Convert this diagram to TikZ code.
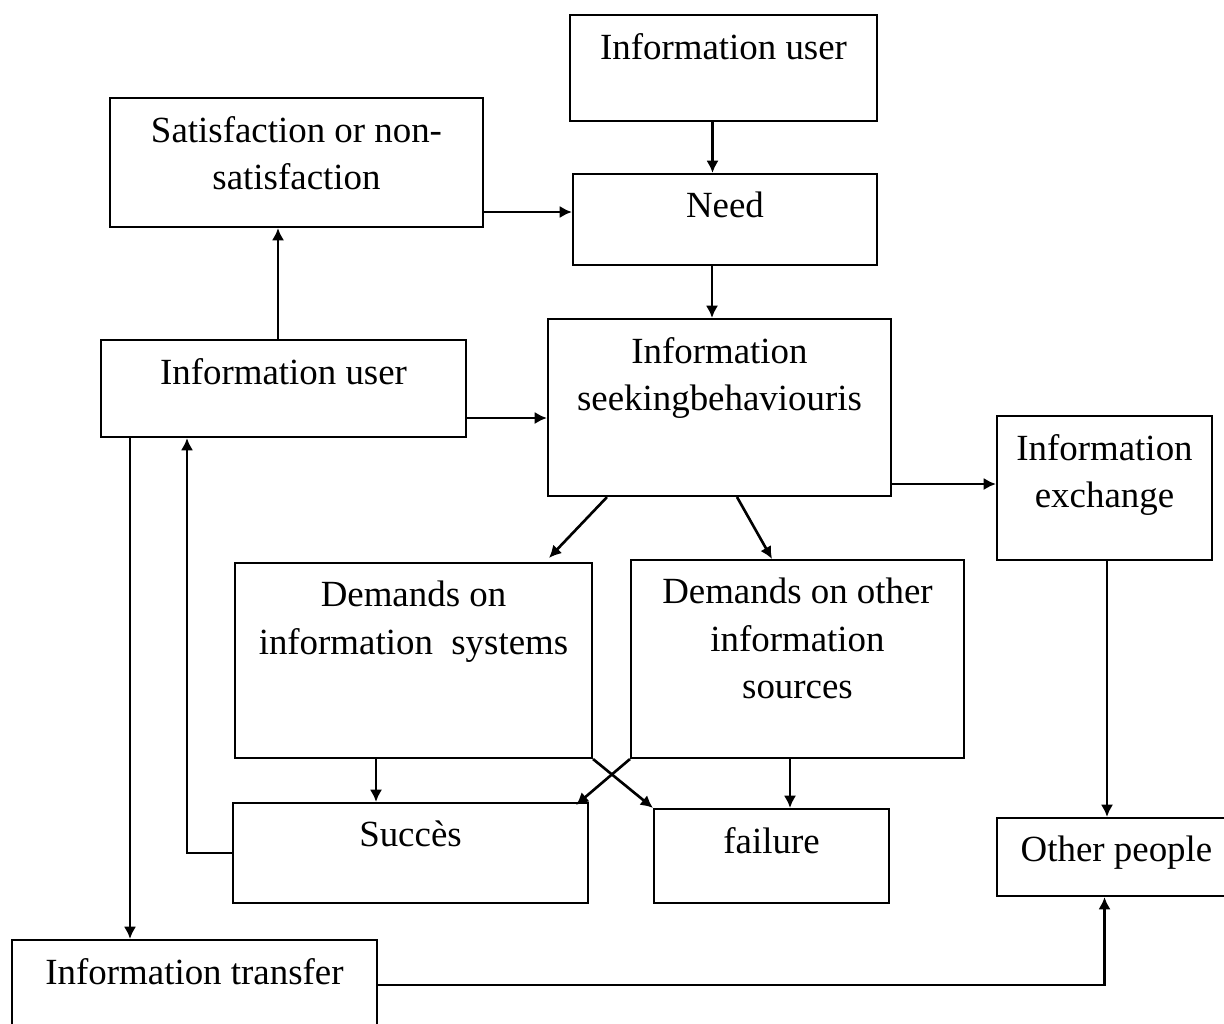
\documentclass[tikz,border=0pt]{standalone}
\usepackage{fontspec}
\setmainfont{Liberation Serif}
\usetikzlibrary{arrows.meta}
\newlength\px
\setlength\px{0.02cm}
\begin{document}
\begin{tikzpicture}[x=0.02cm, y=-0.02cm,
  box/.style={draw, line width=1.2pt, inner sep=0pt},
  txt/.style={anchor=north, align=center, inner sep=0pt, font=\fontsize{21}{27}\selectfont},
  link/.style={line width=1.5pt, -{Latex[length=7pt,width=7pt]}}]
\useasboundingbox (0,0) rectangle (1224,1024);

% Draw the boxes
\node[box, minimum width=307\px, minimum height=106\px] (userTop) at (723.5,68) {};
\node[box, minimum width=373\px, minimum height=129\px] (satis) at (296.5,162.5) {};
\node[box, minimum width=304\px, minimum height=91\px] (need) at (725,219.5) {};
\node[box, minimum width=365\px, minimum height=97\px] (userLeft) at (283.5,388.5) {};
\node[box, minimum width=343\px, minimum height=177\px] (seek) at (719.5,407.5) {};
\node[box, minimum width=215\px, minimum height=144\px] (exch) at (1104.5,488) {};
\node[box, minimum width=357\px, minimum height=195\px] (demSys) at (413.5,660.5) {};
\node[box, minimum width=333\px, minimum height=198\px] (demOth) at (797.5,659) {};
\node[box, minimum width=355\px, minimum height=100\px] (succ) at (410.5,853) {};
\node[box, minimum width=235\px, minimum height=94\px] (fail) at (771.5,856) {};
\node[box, minimum width=239\px, minimum height=78\px] (other) at (1116.5,857) {};
\node[box, minimum width=365\px, minimum height=100\px] (transfer) at (194.5,990) {};

% Insert the texts
\node[txt] (userTopTxt) at ([yshift=-19\px]userTop.north) {Information user};
\node[txt] (satisTxt) at ([yshift=-19\px]satis.north) {Satisfaction or non-\\satisfaction};
\node[txt] (needTxt) at ([yshift=-19\px]need.north) {Need};
\node[txt] (userLeftTxt) at ([yshift=-19\px]userLeft.north) {Information user};
\node[txt] (seekTxt) at ([yshift=-19\px]seek.north) {Information\\seekingbehaviouris};
\node[txt] (exchTxt) at ([yshift=-19\px]exch.north) {Information\\exchange};
\node[txt] (demSysTxt) at ([yshift=-19\px]demSys.north) {Demands on\\information\ \ systems};
\node[txt] (demOthTxt) at ([yshift=-19\px]demOth.north) {Demands on other\\information\\sources};
\node[txt] (succTxt) at ([yshift=-19\px]succ.north) {Succès};
\node[txt] (failTxt) at ([yshift=-19\px]fail.north) {failure};
\node[txt] (otherTxt) at ([yshift=-19\px]other.north) {Other people};
\node[txt] (transferTxt) at ([yshift=-19\px]transfer.north) {Information transfer};

% Draw the arrows
\draw[link] ([xshift=-11\px]userTop.south) -- ([xshift=-11\px]userTop.south |- need.north);
\draw[link] ([yshift=-49.5\px]satis.east) -- ([yshift=-49.5\px]satis.east -| need.west);
\draw[link] ([xshift=-13\px]need.south) -- ([xshift=-13\px]need.south |- seek.north);
\draw[link] ([xshift=-5.5\px]userLeft.north) -- ([xshift=-5.5\px]userLeft.north |- satis.south);
\draw[link] ([yshift=-29.5\px]userLeft.east) -- ([yshift=-29.5\px]userLeft.east -| seek.west);
\draw[link] ([yshift=-76.5\px]seek.east) -- ([yshift=-76.5\px]seek.east -| exch.west);
\draw[link] ([xshift=-112.5\px]seek.south) -- ([xshift=135.5\px, yshift=4\px]demSys.north);
\draw[link] ([xshift=17.5\px]seek.south) -- ([xshift=-25.5\px]demOth.north);
\draw[link] ([xshift=2.5\px]exch.south) -- ([xshift=2.5\px]exch.south |- other.north);
\draw[link] ([xshift=-37.5\px]demSys.south) -- ([xshift=-37.5\px]demSys.south |- succ.north);
\draw[link] (demSys.south east) -- (fail.north west);
\draw[link] (demOth.south west) -- ([xshift=-13\px, yshift=-3\px]succ.north east);
\draw[link] ([xshift=-7.5\px]demOth.south) -- ([xshift=-7.5\px]demOth.south |- fail.north);
\draw[link] (succ.west) -| ([xshift=-96.5\px]userLeft.south);
\draw[link] ([xshift=-153.5\px]userLeft.south) -- ([xshift=-153.5\px]userLeft.south |- transfer.north);
\draw[link] ([yshift=5\px]transfer.east) -| ([xshift=-12\px]other.south);
\end{tikzpicture}
\end{document}
